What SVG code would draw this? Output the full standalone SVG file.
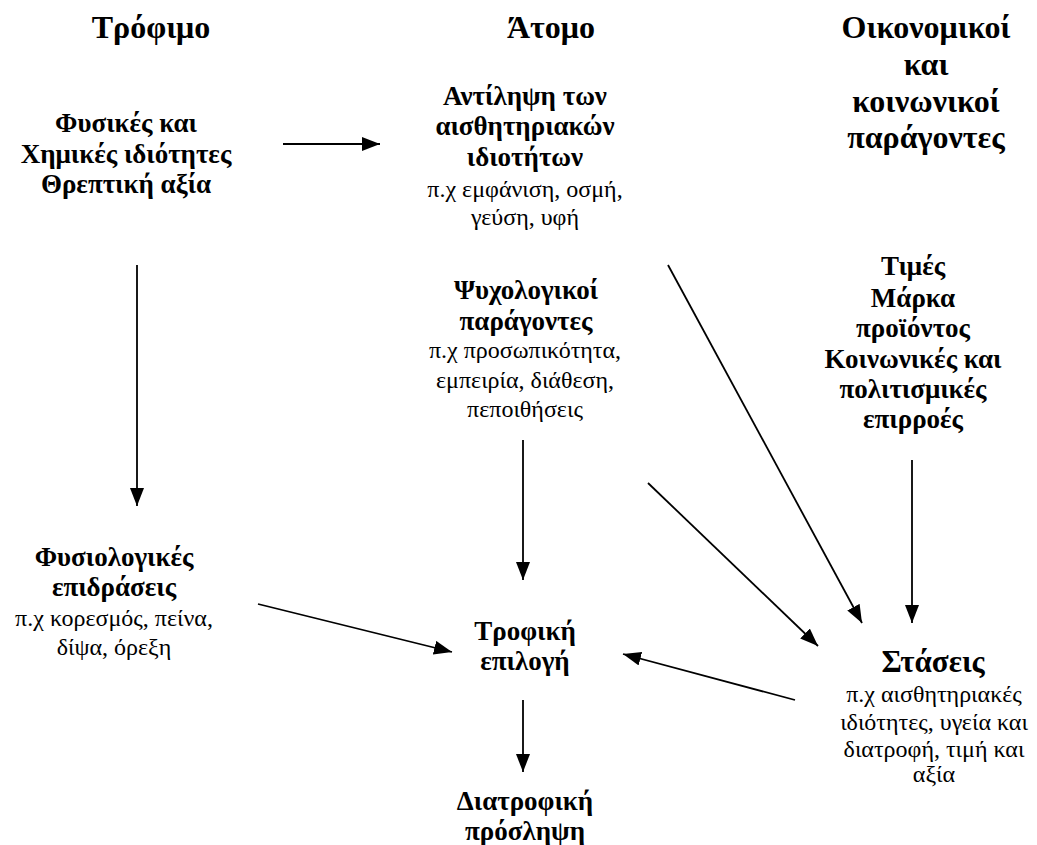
<svg xmlns="http://www.w3.org/2000/svg" width="1037" height="845" viewBox="0 0 1037 845">
<defs>
<style>
text{font-family:"Liberation Serif","Times New Roman","DejaVu Serif",serif;fill:#000;text-anchor:middle}
.h{font-size:32px;font-weight:bold}
.b{font-size:27px;font-weight:bold}
.r{font-size:24px}
.s{font-size:31px;font-weight:bold}
.c line{stroke:#000;stroke-width:1.8;marker-end:url(#ah)}
</style>
<marker id="ah" markerUnits="userSpaceOnUse" markerWidth="20" markerHeight="16" refX="18" refY="7" orient="auto">
<path d="M0,0 L18,7 L0,14 Z" fill="#000"/>
</marker>
</defs>
<rect width="1037" height="845" fill="#fff"/>
<g id="h-trofimo"><text class="h" x="151" y="38">Τρόφιμο</text></g>
<g id="h-atomo"><text class="h" x="551" y="38">Άτομο</text></g>
<g id="h-oikonomikoi"><text class="h" x="926" y="38">Οικονομικοί</text><text class="h" x="926" y="75">και</text><text class="h" x="926" y="112">κοινωνικοί</text><text class="h" x="926" y="148">παράγοντες</text></g>
<g id="n-fysikes"><text class="b" x="126" y="132">Φυσικές και</text><text class="b" x="126" y="163">Χημικές ιδιότητες</text><text class="b" x="126" y="193">Θρεπτική αξία</text></g>
<g id="n-antilipsi"><text class="b" x="525" y="105">Αντίληψη των</text><text class="b" x="525" y="135">αισθητηριακών</text><text class="b" x="525" y="166">ιδιοτήτων</text><text class="r" x="525" y="197">π.χ εμφάνιση, οσμή,</text><text class="r" x="525" y="225">γεύση, υφή</text></g>
<g id="n-psyxologikoi"><text class="b" x="526" y="299">Ψυχολογικοί</text><text class="b" x="526" y="330">παράγοντες</text><text class="r" x="525" y="358">π.χ προσωπικότητα,</text><text class="r" x="525" y="388">εμπειρία, διάθεση,</text><text class="r" x="525" y="417">πεποιθήσεις</text></g>
<g id="n-times"><text class="b" x="913" y="275">Τιμές</text><text class="b" x="913" y="307">Μάρκα</text><text class="b" x="913" y="337">προϊόντος</text><text class="b" x="913" y="368">Κοινωνικές και</text><text class="b" x="913" y="398">πολιτισμικές</text><text class="b" x="913" y="428">επιρροές</text></g>
<g id="n-fysiologikes"><text class="b" x="114" y="566">Φυσιολογικές</text><text class="b" x="114" y="596">επιδράσεις</text><text class="r" x="114" y="626">π.χ κορεσμός, πείνα,</text><text class="r" x="114" y="655">δίψα, όρεξη</text></g>
<g id="n-trofiki"><text class="b" x="525" y="640">Τροφική</text><text class="b" x="525" y="670">επιλογή</text></g>
<g id="n-diatrofiki"><text class="b" x="525" y="810">Διατροφική</text><text class="b" x="525" y="840">πρόσληψη</text></g>
<g id="n-staseis"><text class="s" x="933" y="672">Στάσεις</text><text class="r" x="934" y="702">π.χ αισθητηριακές</text><text class="r" x="934" y="730">ιδιότητες, υγεία και</text><text class="r" x="934" y="757">διατροφή, τιμή και</text><text class="r" x="934" y="782">αξία</text></g>
<g id="connectors" class="c">
<line x1="283" y1="144" x2="380" y2="144"/>
<line x1="137" y1="265" x2="137" y2="506"/>
<line x1="258" y1="604" x2="452" y2="652"/>
<line x1="523" y1="440" x2="523" y2="580"/>
<line x1="523" y1="700" x2="523" y2="772"/>
<line x1="668" y1="265" x2="862" y2="623"/>
<line x1="648" y1="483" x2="818" y2="646"/>
<line x1="912" y1="460" x2="912" y2="623"/>
<line x1="795" y1="700" x2="623" y2="654"/>
</g>
</svg>
